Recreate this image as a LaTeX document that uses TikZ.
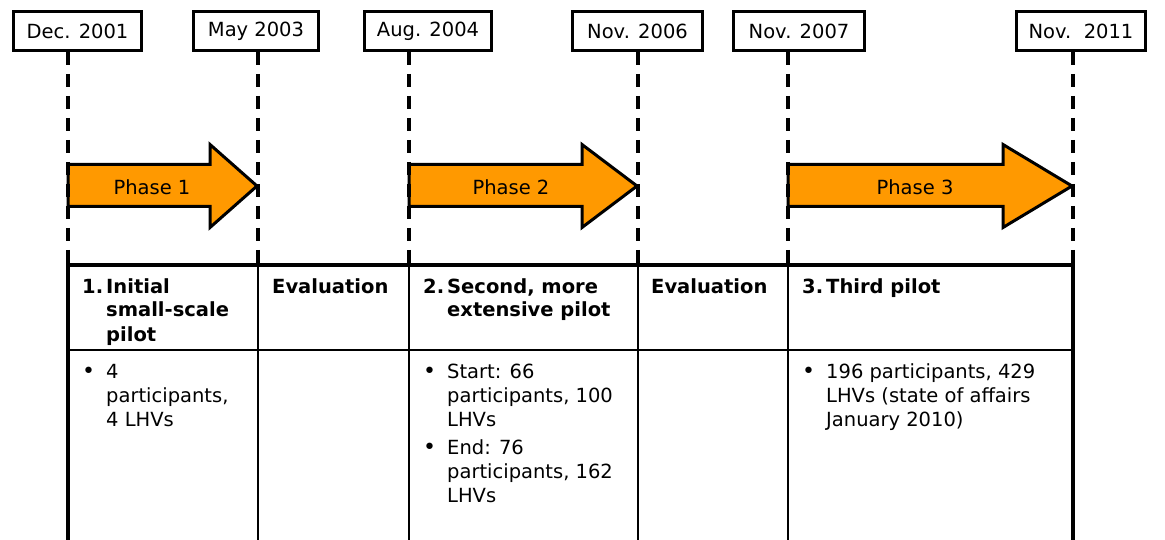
\documentclass[tikz,border=0pt]{standalone}
\usepackage{fontspec}
\setmainfont{DejaVu Sans}
\usetikzlibrary{positioning}
\definecolor{phaseorange}{HTML}{FF9900}
\newcommand{\itembul}{{\fontsize{22}{24}\selectfont\textbullet}}
\tikzset{
  basic/.style    = {inner sep=0pt, font=\fontsize{19.5}{24}\selectfont},
  datebox/.style  = {basic, draw, line width=3pt, minimum height=39pt},
  timeline/.style = {line width=4pt, dash pattern=on 13pt off 9pt},
  phasearrow/.style = {draw, line width=3pt, fill=phaseorange, line join=miter},
  phaselabel/.style = {basic},
  cell/.style     = {basic, anchor=base west, align=left},
  headcell/.style = {cell, font=\fontsize{19.5}{24}\selectfont\bfseries}
}

\begin{document}
\begin{tikzpicture}[x=1pt, y=-1pt]
\useasboundingbox (0,0) rectangle (1165,540);

% anchors of the time lines
\foreach \i/\x in {1/68,2/258,3/409,4/638,5/788,6/1073} {
  \coordinate (t\i) at (\x,265);
  \coordinate (s\i) at (\x,350);
  \coordinate (b\i) at (\x,540);
}

% date boxes
\foreach \i/\x/\w/\txt in {1/77.5/128/{Dec. 2001}, 2/256/125/{May 2003},
    3/428/127/{Aug. 2004}, 4/637.5/130/{Nov. 2006}, 5/799/131/{Nov. 2007},
    6/1081/129/{Nov.\ \ 2011}}
  \node[datebox, minimum width=\w pt] (d\i) at (\x,31) {\txt};

% phases
\foreach \i/\s/\h/\e/\c in {1/68/210/257/152, 2/409/582/637/511, 3/788/1003/1072/915} {
  \draw[phasearrow] (\s,164.5) -- (\h,164.5) -- (\h,144.5) -- (\e,186)
    -- (\h,227.5) -- (\h,206.5) -- (\s,206.5) -- cycle;
  \node[phaselabel] (p\i) at (\c,187) {Phase \i};
}

\foreach \i in {1,...,6}
  \draw[timeline] (d\i.south -| t\i) -- (t\i);

% the table
\draw[line width=3.5pt] ([xshift=-2pt]t1) -- ([xshift=2pt]t6);
\draw[line width=2pt] (s1) -- (s6);
\foreach \i in {2,...,5}
  \draw[line width=2pt] (t\i) -- (b\i);
\foreach \i in {1,6}
  \draw[line width=4pt] (t\i) -- (b\i);

% headers
\node[headcell] (h1) at ([xshift=14pt]t1 |- 0,293)
  {\begin{tabular}[t]{@{}p{24pt}@{}l@{}}1.&Initial\\&small-scale\\&pilot\end{tabular}};
\node[headcell] (h2) at ([xshift=14pt]t2 |- 0,293) {Evaluation};
\node[headcell] (h3) at ([xshift=14pt]t3 |- 0,293)
  {\begin{tabular}[t]{@{}p{24pt}@{}l@{}}2.&Second, more\\&extensive pilot\end{tabular}};
\node[headcell] (h4) at ([xshift=13pt]t4 |- 0,293) {Evaluation};
\node[headcell] (h5) at ([xshift=14pt]t5 |- 0,293)
  {\begin{tabular}[t]{@{}p{24pt}@{}l@{}}3.&Third pilot\end{tabular}};

% contents
\node[cell] (c1) at ([xshift=14pt]t1 |- 0,378)
  {\begin{tabular}[t]{@{}p{24pt}@{}l@{}}\itembul&4\\&participants,\\&4 LHVs\end{tabular}};
\node[cell] (c3) at ([xshift=14pt]t3 |- 0,378)
  {\begin{tabular}[t]{@{}p{24pt}@{}l@{}}\itembul&Start: 66\\&participants, 100\\&LHVs\\[4pt]
   \itembul&End: 76\\&participants, 162\\&LHVs\end{tabular}};
\node[cell] (c5) at ([xshift=14pt]t5 |- 0,378)
  {\begin{tabular}[t]{@{}p{24pt}@{}l@{}}\itembul&196 participants, 429\\&LHVs (state of affairs\\&January 2010)\end{tabular}};
\end{tikzpicture}
\end{document}
